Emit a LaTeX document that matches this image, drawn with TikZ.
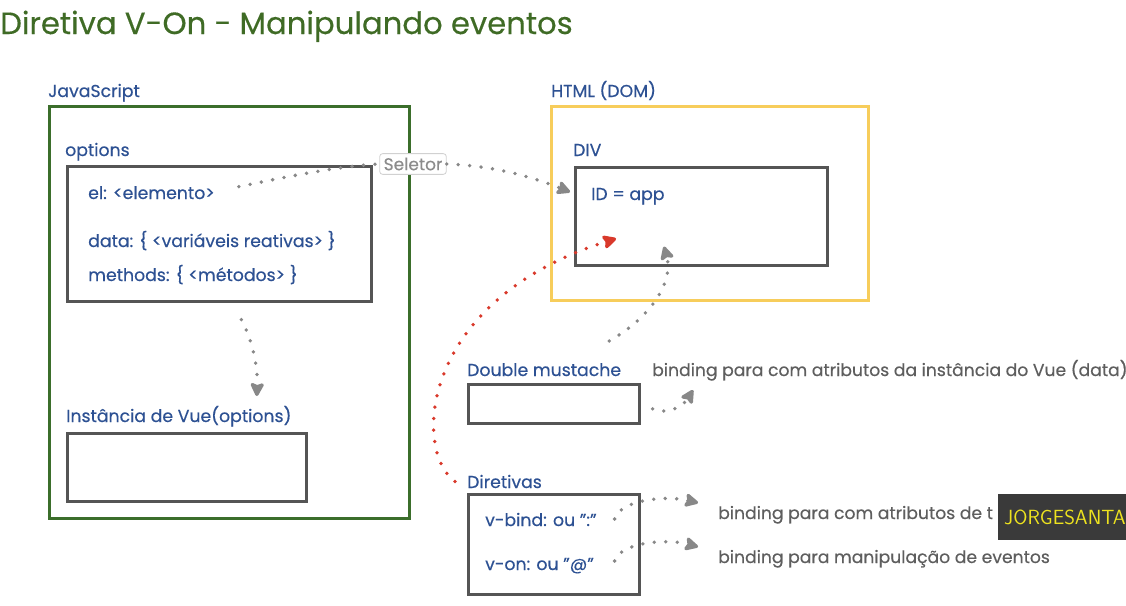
\documentclass[tikz,border=0pt]{standalone}
\usepackage{fontspec}
\setmainfont{Poppins}[FakeBold=0.35]
\usetikzlibrary{arrows.meta,calc}
\definecolor{ttlgreen}{HTML}{3F6B25}
\definecolor{jsgreen}{HTML}{3B6E2B}
\definecolor{lblblue}{HTML}{2D5193}
\definecolor{boxgray}{HTML}{555555}
\definecolor{dotgray}{HTML}{888888}
\definecolor{txtgray}{HTML}{5E5E5E}
\definecolor{htmlyellow}{HTML}{F7CD5B}
\definecolor{dotred}{HTML}{D9392B}
\definecolor{wmdark}{HTML}{3A3A3A}
\definecolor{wmyellow}{HTML}{EDE21F}
\tikzset{
  lbl/.style={anchor=base west,inner sep=0pt,text=lblblue,font=\fontsize{17.3}{19}\selectfont},
  gtxt/.style={anchor=base west,inner sep=0pt,text=txtgray,font=\fontsize{17.2}{19}\selectfont},
  graybox/.style={draw=boxgray,line width=2.6pt},
  dotline/.style={draw=dotgray,line width=3.8pt,line cap=round,dash pattern=on 0pt off 11.5pt,
     -{Stealth[length=16pt,width=16pt,inset=3pt,round]},},
  redline/.style={dotline,draw=dotred},
}
\begin{document}
\begin{tikzpicture}[x=1pt,y=-1pt]
\useasboundingbox[fill=white] (0,0) rectangle (1126,605);
% title
\node[anchor=base west,inner sep=0pt,text=ttlgreen,font=\fontsize{30.7}{34}\selectfont] (title) at (0,34) {Diretiva V-On - Manipulando eventos};
% JavaScript
\node[lbl] (jslbl) at (48,97) {JavaScript};
\draw[draw=jsgreen,line width=3pt] (49,106) rectangle (409,518);
\node[lbl] (optlbl) at (65,156) {options};
\node[graybox,minimum width=304pt,minimum height=135pt,anchor=north west,inner sep=0pt] (opts) at (66,165) {};
\node[lbl] (el) at (88,199) {el: <elemento>};
\node[lbl] (data) at (88,247) {data: \{ <variáveis reativas> \}};
\node[lbl] (methods) at (88,281) {methods: \{ <métodos> \}};
\node[lbl] (instlbl) at (66,422) {Instância de Vue(options)};
\node[graybox,minimum width=239pt,minimum height=68pt,anchor=north west,inner sep=0pt] (inst) at (66,432) {};
% HTML
\node[lbl] (htmllbl) at (551,97) {HTML (DOM)};
\draw[draw=htmlyellow,line width=3pt] (551,106) rectangle (868,300);
\node[lbl] (divlbl) at (573,156) {DIV};
\node[graybox,minimum width=252pt,minimum height=98pt,anchor=north west,inner sep=0pt] (divbox) at (574,166) {};
\node[lbl] (idapp) at (591,200) {ID = app};
% Double mustache
\node[lbl] (dmlbl) at (467,376) {Double mustache};
\node[graybox,minimum width=171pt,minimum height=39pt,anchor=north west,inner sep=0pt] (dmbox) at (467,383) {};
\node[gtxt] (dmtxt) at (652,376) {binding para com atributos da instância do Vue (data)};
% Diretivas
\node[lbl] (dirlbl) at (467,488) {Diretivas};
\node[graybox,minimum width=171pt,minimum height=100pt,anchor=north west,inner sep=0pt] (dirbox) at (467,493) {};
\node[lbl] (vbind) at (485,526) {v-bind: ou "{:}"};
\node[lbl] (von) at (485,570) {v-on: ou "@"};
\node[gtxt] (bindtxt) at (718,519) {binding para com atributos de t};
\node[gtxt] (ontxt) at (718,563) {binding para manipulação de eventos};
% Seletor
\node[draw=black!18,rounded corners=3pt,line width=0.8pt,fill=white,text=black!45,inner xsep=4pt,inner ysep=4pt,font=\fontsize{17}{19}\selectfont] (sel) at (413,164) {Seletor};
% connectors
\draw[dotline,-] ($(el.east)+(24,-6)$) .. controls (290,176) and (340,166) .. (sel.west);
\draw[dotline] (sel.east) .. controls (500,166) and (540,180) .. ($(divbox.north west)+(-4,26)$);
\draw[dotline] ($(opts.south)+(22,17)$) .. controls (252,340) and (258,365) .. ($(inst.north)+(70,-36)$);
\draw[redline] ($(dirlbl.west)+(-12,0)$) .. controls (412,450) and (420,300) .. ($(divbox.south west)+(42,-28)$);
\draw[dotline] ($(dmlbl.north east)+(-12,-22)$) .. controls (650,318) and (674,282) .. ($(divbox.south west)+(90,-20)$);
\draw[dotline] ($(dmbox.east)+(12,5)$) .. controls (665,415) and (682,408) .. (693,390);
\draw[dotline] ($(dirbox.north east)+(-26,26)$) .. controls (620,500) and (665,495) .. ($(bindtxt.west)+(-20,-12)$);
\draw[dotline] ($(dirbox.north east)+(-26,68)$) .. controls (620,543) and (665,538) .. ($(ontxt.west)+(-20,-12)$);
% overlay label
\node[fill=wmdark,anchor=north west,minimum width=140pt,minimum height=46pt,inner sep=0pt] (wm) at (998,494) {};
\node[anchor=base west,inner sep=0pt,text=wmyellow,font=\fontsize{20.5}{22}\selectfont\sffamily] (wmtxt) at (1004,524) {JORGESANTA};
\end{tikzpicture}
\end{document}
